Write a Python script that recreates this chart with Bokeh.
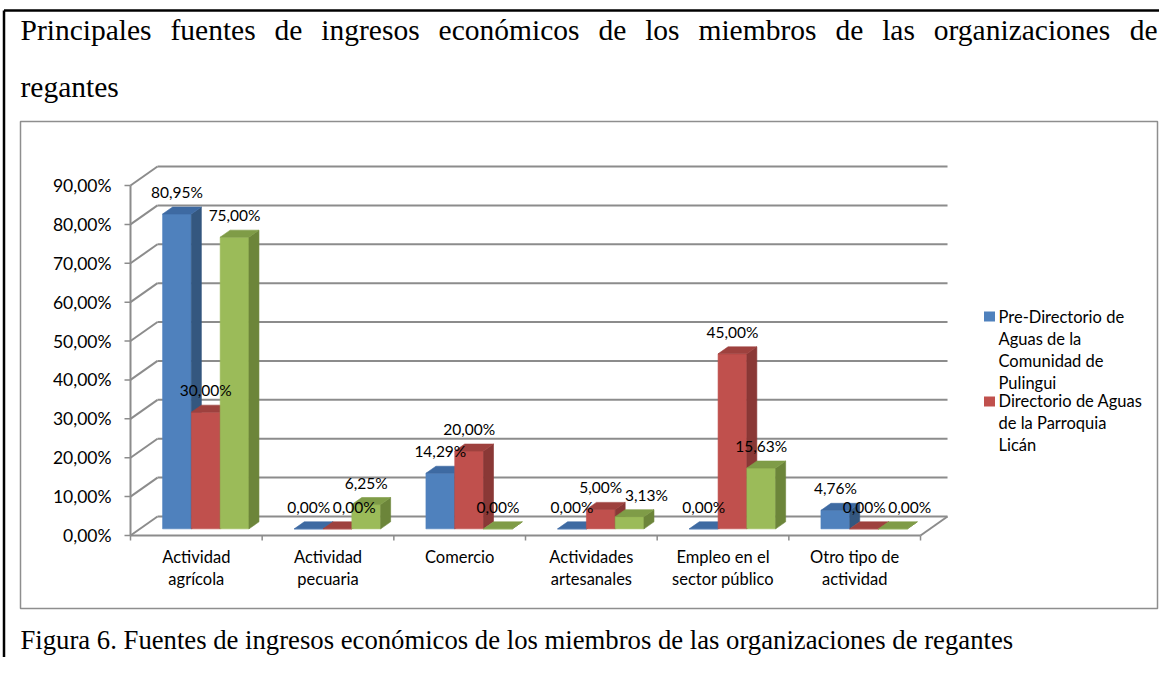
from bokeh.plotting import figure
from bokeh.models import Range1d
from bokeh.core.properties import value
from bokeh.embed import file_html
from bokeh.resources import INLINE

# ---------------- data ----------------
categories = ["Actividad\nagrícola", "Actividad\npecuaria", "Comercio",
              "Actividades\nartesanales", "Empleo en el\nsector público",
              "Otro tipo de\nactividad"]
pre_directorio_pulingui = [80.95, 0.00, 14.29, 0.00, 0.00, 4.76]
directorio_lican = [30.00, 0.00, 20.00, 5.00, 45.00, 0.00]
tercera_serie = [75.00, 6.25, 0.00, 3.13, 15.63, 0.00]
legend_labels = ["Pre-Directorio de\nAguas de la\nComunidad de\nPulingui",
                 "Directorio de Aguas\nde la Parroquia\nLicán"]
y_ticks = [0, 10, 20, 30, 40, 50, 60, 70, 80, 90]
title_line1 = "Principales fuentes de ingresos económicos de los miembros de las organizaciones de"
title_line2 = "regantes"
caption = "Figura 6. Fuentes de ingresos económicos de los miembros de las organizaciones de regantes"

series = [pre_directorio_pulingui, directorio_lican, tercera_serie]

# ---------------- styles / geometry ----------------
FIG_W, FIG_H = 1159, 657
AXIS_X0, AXIS_Y0 = 130.0, 535.0          # front-left corner of the value axis (px)
CAT_PX, VAL_PX = 131.67, 3.889           # px per category, px per 1 %
DEPTH_X, DEPTH_Y = 27.0, 19.0            # 3-D depth vector (px)
BAR_DEPTH_START, BAR_DEPTH = 0.35, 0.37
GROUP = 0.656
front_cols = ["#4F81BD", "#C0504D", "#9BBB59"]
side_cols = ["#34577F", "#8A3836", "#6C853A"]
top_cols = ["#3E6AA2", "#9E413E", "#7F9C47"]
GRID = "#8C8C8C"
CHART_FONT = value("Lato")
SERIF = value("Liberation Serif")
LH = 1.1
LABEL_FS = 15.5

def fx(px):
    return (px - AXIS_X0) / CAT_PX

def fy(py):
    return (AXIS_Y0 - py) / VAL_PX

DDX, DDY = DEPTH_X / CAT_PX, DEPTH_Y / VAL_PX
ncat = len(categories)

p = figure(width=FIG_W, height=FIG_H,
           x_range=Range1d(fx(0), fx(FIG_W)),
           y_range=Range1d(fy(FIG_H), fy(0)),
           output_backend="svg", toolbar_location=None, min_border=0,
           x_axis_location=None, y_axis_location=None)
p.xgrid.visible = False
p.ygrid.visible = False
p.outline_line_color = None
p.background_fill_color = "white"
p.border_fill_color = "white"

# outer (document table) border: top and left edges
p.segment(x0=[fx(3.5), fx(3.5)], y0=[fy(10), fy(10)],
          x1=[fx(FIG_W), fx(3.5)], y1=[fy(10), fy(FIG_H)],
          line_color="black", line_width=2.5)
# chart area border
p.quad(left=fx(20), right=fx(1157), bottom=fy(608), top=fy(121),
       fill_color=None, line_color="#8E8E8E", line_width=1.5)

# ---------------- walls / gridlines ----------------
p.segment(x0=[DDX] * len(y_ticks), y0=[t + DDY for t in y_ticks],
          x1=[ncat + DDX] * len(y_ticks), y1=[t + DDY for t in y_ticks],
          line_color=GRID, line_width=2)
p.segment(x0=[0] * len(y_ticks), y0=y_ticks,
          x1=[DDX] * len(y_ticks), y1=[t + DDY for t in y_ticks],
          line_color=GRID, line_width=2)
# front value axis and ticks
p.segment(x0=[0], y0=[0], x1=[0], y1=[max(y_ticks)], line_color=GRID, line_width=2)
p.segment(x0=[fx(124)] * len(y_ticks), y0=y_ticks, x1=[0] * len(y_ticks), y1=y_ticks,
          line_color=GRID, line_width=1.5)
# floor front edge + right edge
p.segment(x0=[0, ncat], y0=[0, 0], x1=[ncat, ncat + DDX], y1=[0, DDY],
          line_color=GRID, line_width=2)
# category ticks
p.segment(x0=list(range(ncat + 1)), y0=[0] * (ncat + 1),
          x1=list(range(ncat + 1)), y1=[fy(540)] * (ncat + 1),
          line_color=GRID, line_width=1.5)

# tick labels
p.text(x=[fx(111)] * len(y_ticks), y=y_ticks,
       text=[f"{t:.2f}".replace(".", ",") + "%" for t in y_ticks],
       text_align="right", text_baseline="middle", text_font=CHART_FONT,
       text_font_size="17.5px", text_color="black")
# category labels
p.text(x=[i + 0.5 for i in range(ncat)], y=[fy(546)] * ncat, text=categories,
       text_align="center", text_baseline="top", text_font=CHART_FONT,
       text_font_size="16.5px", text_color="black", text_line_height=LH)

# ---------------- 3-D bars ----------------
bw = GROUP / len(series)
xs, ys, cols = [], [], []
lx, ly, lt = [], [], []
for i in range(ncat):
    prev = None  # (right edge px, y px) of previous label in this category
    for s, vals in enumerate(series):
        v = vals[i]
        l = i + (1 - GROUP) / 2 + s * bw + BAR_DEPTH_START * DDX
        r = l + bw
        b = BAR_DEPTH_START * DDY
        t = b + v
        dx, dy = BAR_DEPTH * DDX, BAR_DEPTH * DDY
        # front
        xs.append([l, r, r, l]); ys.append([b, b, t, t]); cols.append(front_cols[s])
        # side
        xs.append([r, r + dx, r + dx, r]); ys.append([b, b + dy, t + dy, t]); cols.append(side_cols[s])
        # top
        xs.append([l, r, r + dx, l + dx]); ys.append([t, t, t + dy, t + dy]); cols.append(top_cols[s])
        # data label, nudged right if it would collide with the previous one
        txt = f"{v:.2f}".replace(".", ",") + "%"
        half_w = len(txt) * 0.55 * LABEL_FS / 2
        cx_px = AXIS_X0 + (l + r) / 2 * CAT_PX
        cy_px = AXIS_Y0 - t * VAL_PX - 22
        if prev is not None and abs(prev[1] - cy_px) < LABEL_FS * 1.1 and cx_px - half_w < prev[0] + 3:
            cx_px = prev[0] + 3 + half_w
        prev = (cx_px + half_w, cy_px)
        lx.append(fx(cx_px)); ly.append(fy(cy_px)); lt.append(txt)
p.patches(xs=xs, ys=ys, fill_color=cols, line_color=cols, line_width=0.6)
p.text(x=lx, y=ly, text=lt, text_align="center", text_baseline="middle",
       text_font=CHART_FONT, text_font_size=f"{LABEL_FS}px", text_color="black")

# ---------------- legend ----------------
p.rect(x=[fx(989)] * 2, y=[fy(316), fy(401)], width=11, height=10,
       width_units="screen", height_units="screen",
       fill_color=front_cols[:2], line_color=None)
p.text(x=[fx(998)] * 2, y=[fy(306), fy(390)], text=legend_labels,
       text_align="left", text_baseline="top", text_font=CHART_FONT,
       text_font_size="16.5px", text_color="black", text_line_height=LH)

# ---------------- title (justified) and caption ----------------
TIMES = {'a': 444, 'b': 500, 'c': 444, 'd': 500, 'e': 444, 'f': 333, 'g': 500,
         'i': 278, 'l': 278, 'm': 778, 'n': 500, 'o': 500, 'ó': 500, 'p': 500,
         'r': 333, 's': 389, 't': 278, 'u': 500, 'z': 444, 'P': 556}
TITLE_FS = 29.5
words = title_line1.split()
widths = [sum(TIMES.get(c, 500) for c in w) / 1000 * TITLE_FS for w in words]
x_left, x_right = 20.0, 1157.0
gap = (x_right - x_left - sum(widths)) / (len(words) - 1)
wx, cur = [], x_left
for w in widths:
    wx.append(fx(cur))
    cur += w + gap
p.text(x=wx, y=[fy(29)] * len(words), text=words, text_align="left",
       text_baseline="alphabetic", text_font=SERIF, text_font_size=f"{TITLE_FS}px",
       text_color="black")
p.text(x=[fx(20)], y=[fy(86)], text=[title_line2], text_align="left",
       text_baseline="alphabetic", text_font=SERIF, text_font_size=f"{TITLE_FS}px",
       text_color="black")
p.text(x=[fx(20)], y=[fy(639)], text=[caption], text_align="left",
       text_baseline="alphabetic", text_font=SERIF, text_font_size="26.7px",
       text_color="black")

open("out.html", "w").write(file_html(p, INLINE))
